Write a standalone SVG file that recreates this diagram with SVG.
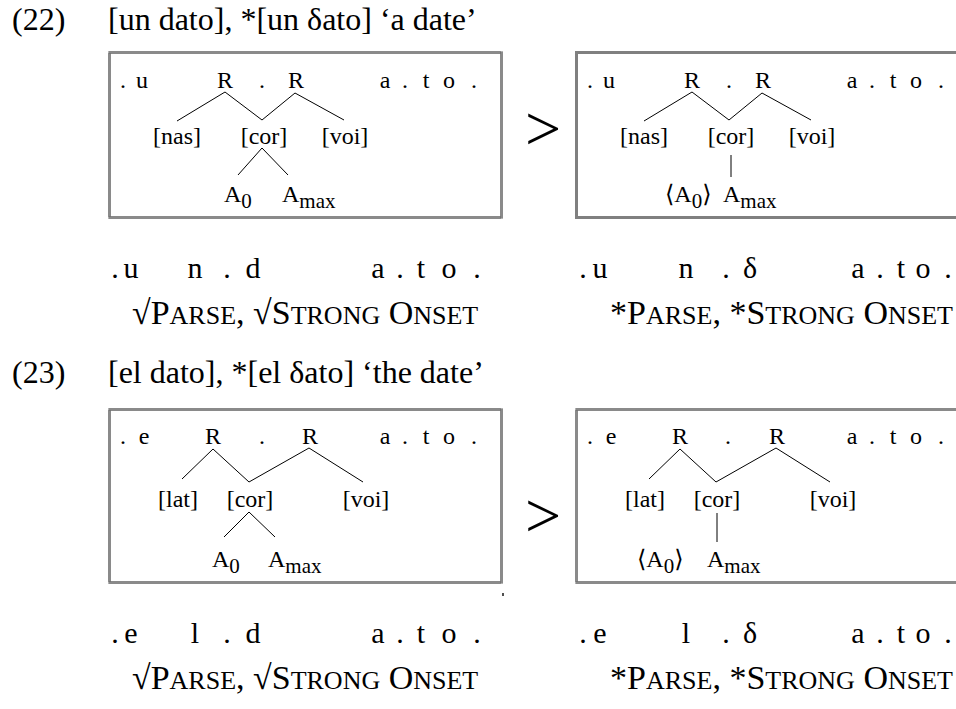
<svg xmlns="http://www.w3.org/2000/svg" width="956" height="709" viewBox="0 0 956 709">
<style>
text{font-family:"Liberation Serif","Times New Roman","DejaVu Serif",serif;fill:#000}
.t{font-size:32px}
.b{font-size:24px}
.s{font-size:21px}
.r{font-size:30px}
.sc{font-size:34px}
.scs{font-size:26px}
.m{text-anchor:middle}
.gt{font-size:64px;text-anchor:middle}
.ln{stroke:#000;stroke-width:1;fill:none}
.dotbase{fill:none;stroke:#b4b4b4;stroke-width:3}
.dot{fill:none;stroke:#606060;stroke-width:3;stroke-dasharray:1 1}
.solid{fill:none;stroke:#808080;stroke-width:3}
</style>
<rect width="956" height="709" fill="#fff"/>

<g id="ex22-title">
<text class="t" x="12" y="30">(22)</text>
<text class="t" x="108" y="30">[un dato], *[un δato] ‘a date’</text>
</g>

<g id="ex22-box-left">
<rect class="dotbase" x="109.5" y="52.5" width="392" height="165"/>
<rect class="dot" x="109.5" y="52.5" width="392" height="165"/>
<g class="b m">
<text x="123" y="88">.</text><text x="142" y="88">u</text>
<text x="225" y="88">R</text><text x="262" y="88">.</text><text x="296" y="88">R</text>
<text x="385" y="88">a</text><text x="405" y="88">.</text><text x="426" y="88">t</text><text x="449" y="88">o</text><text x="474" y="88">.</text>
<text x="177" y="144">[nas]</text><text x="264" y="144">[cor]</text><text x="345" y="144">[voi]</text>
</g>
<text class="b" x="224" y="202">A<tspan class="s" dy="6">0</tspan></text>
<text class="b" x="282" y="202">A<tspan class="s" dy="6">max</tspan></text>
</g>

<g id="ex22-gt"><text class="gt" x="543" y="150">&gt;</text></g>

<g id="ex22-box-right">
<rect class="solid" x="576.5" y="52.5" width="390" height="165"/>
<g class="b m">
<text x="590" y="88">.</text><text x="609" y="88">u</text>
<text x="692" y="88">R</text><text x="729" y="88">.</text><text x="763" y="88">R</text>
<text x="852" y="88">a</text><text x="872" y="88">.</text><text x="893" y="88">t</text><text x="916" y="88">o</text><text x="941" y="88">.</text>
<text x="644" y="144">[nas]</text><text x="731" y="144">[cor]</text><text x="812" y="144">[voi]</text>
</g>
<text class="b" x="665" y="202">⟨A<tspan class="s" dy="6">0</tspan><tspan dy="-6">⟩</tspan></text>
<text class="b" x="723" y="202">A<tspan class="s" dy="6">max</tspan></text>
</g>

<g id="ex22-rows">
<g class="r m">
<text x="115" y="278">.</text><text x="131" y="278">u</text><text x="195" y="278">n</text><text x="227" y="278">.</text><text x="253" y="278">d</text>
<text x="378" y="278">a</text><text x="400" y="278">.</text><text x="421" y="278">t</text><text x="449" y="278">o</text><text x="477" y="278">.</text>
<text x="583" y="278">.</text><text x="600" y="278">u</text><text x="686" y="278">n</text><text x="726" y="278">.</text><text x="750" y="278">δ</text>
<text x="858" y="278">a</text><text x="880" y="278">.</text><text x="901" y="278">t</text><text x="923" y="278">o</text><text x="948" y="278">.</text>
</g>
<text class="sc" x="132" y="324">√P<tspan class="scs">ARSE</tspan>, √S<tspan class="scs">TRONG</tspan> O<tspan class="scs">NSET</tspan></text>
<text class="sc" x="610" y="324">*P<tspan class="scs">ARSE</tspan>, *S<tspan class="scs">TRONG</tspan> O<tspan class="scs">NSET</tspan></text>
</g>

<g id="ex23-title">
<text class="t" x="12" y="383">(23)</text>
<text class="t" x="108" y="383">[el dato], *[el δato] ‘the date’</text>
</g>

<g id="ex23-box-left">
<rect class="dotbase" x="109.5" y="409.5" width="392" height="173"/>
<rect class="dot" x="109.5" y="409.5" width="392" height="173"/>
<g class="b m">
<text x="123" y="444">.</text><text x="144" y="444">e</text>
<text x="213" y="444">R</text><text x="262" y="444">.</text><text x="310" y="444">R</text>
<text x="385" y="444">a</text><text x="405" y="444">.</text><text x="426" y="444">t</text><text x="449" y="444">o</text><text x="474" y="444">.</text>
<text x="178" y="507">[lat]</text><text x="250" y="507">[cor]</text><text x="366" y="507">[voi]</text>
</g>
<text class="b" x="212" y="567">A<tspan class="s" dy="6">0</tspan></text>
<text class="b" x="268" y="567">A<tspan class="s" dy="6">max</tspan></text>
</g>

<g id="ex23-gt"><text class="gt" x="543" y="537">&gt;</text></g>

<g id="ex23-box-right">
<rect class="dotbase" x="576.5" y="409.5" width="390" height="173"/>
<rect class="dot" x="576.5" y="409.5" width="390" height="173"/>
<g class="b m">
<text x="590" y="444">.</text><text x="611" y="444">e</text>
<text x="680" y="444">R</text><text x="728" y="444">.</text><text x="777" y="444">R</text>
<text x="852" y="444">a</text><text x="872" y="444">.</text><text x="893" y="444">t</text><text x="916" y="444">o</text><text x="941" y="444">.</text>
<text x="645" y="507">[lat]</text><text x="717" y="507">[cor]</text><text x="833" y="507">[voi]</text>
</g>
<text class="b" x="637" y="567">⟨A<tspan class="s" dy="6">0</tspan><tspan dy="-6">⟩</tspan></text>
<text class="b" x="707" y="567">A<tspan class="s" dy="6">max</tspan></text>
</g>

<g id="ex23-rows">
<g class="r m">
<text x="115" y="643">.</text><text x="131" y="643">e</text><text x="195" y="643">l</text><text x="227" y="643">.</text><text x="253" y="643">d</text>
<text x="378" y="643">a</text><text x="400" y="643">.</text><text x="421" y="643">t</text><text x="449" y="643">o</text><text x="477" y="643">.</text>
<text x="583" y="643">.</text><text x="600" y="643">e</text><text x="686" y="643">l</text><text x="726" y="643">.</text><text x="750" y="643">δ</text>
<text x="858" y="643">a</text><text x="880" y="643">.</text><text x="901" y="643">t</text><text x="923" y="643">o</text><text x="948" y="643">.</text>
</g>
<text class="sc" x="132" y="689">√P<tspan class="scs">ARSE</tspan>, √S<tspan class="scs">TRONG</tspan> O<tspan class="scs">NSET</tspan></text>
<text class="sc" x="610" y="689">*P<tspan class="scs">ARSE</tspan>, *S<tspan class="scs">TRONG</tspan> O<tspan class="scs">NSET</tspan></text>
<rect x="502" y="593" width="2" height="3" fill="#505050"/>
</g>

<g id="connectors" class="ln">
<polyline points="177,121 225,92 262,120 295,93 344,120"/>
<polyline points="238,175 262,148 288,175"/>
<polyline points="644,121 692,92 729,120 762,93 811,120"/>
<line x1="731" y1="155" x2="731" y2="177"/>
<polyline points="182,479 213,449 249,482 309,448 363,482"/>
<polyline points="224,537 249,512 275,537"/>
<polyline points="649,479 680,449 716,482 776,448 830,482"/>
<line x1="717" y1="513" x2="717" y2="542"/>
</g>
</svg>
